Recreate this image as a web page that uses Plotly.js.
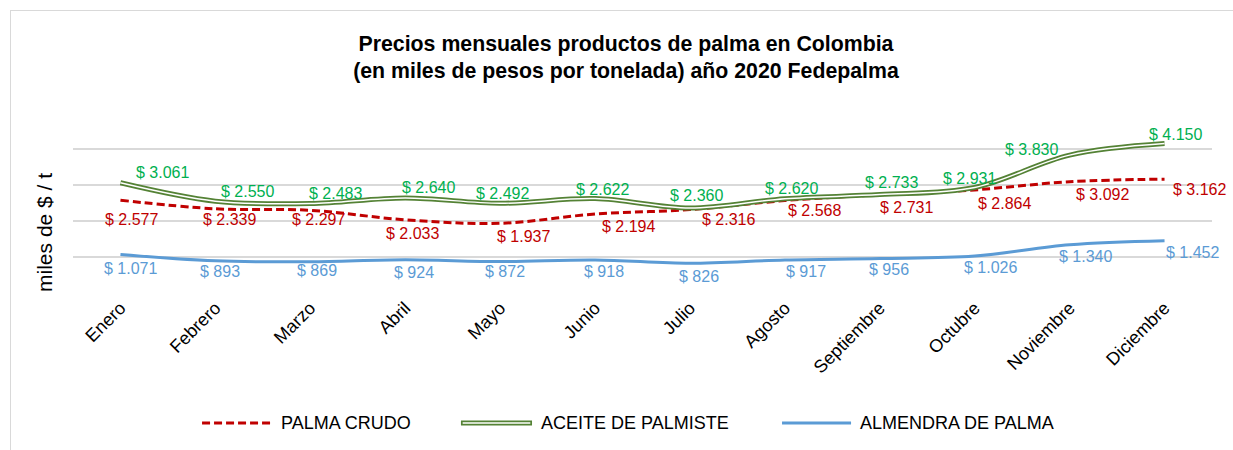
<!DOCTYPE html>
<html>
<head>
<meta charset="utf-8">
<script src="https://cdn.plot.ly/plotly-3.0.1.min.js"></script>
<style>
  html, body { margin: 0; padding: 0; background: #fff; overflow: hidden; }
  #wrap { position: relative; width: 1233px; height: 450px; }
  #chart { position: absolute; left: 0; top: 0; width: 1233px; height: 450px; }
  #frame { position: absolute; left: 10px; top: 10px; width: 1240px; height: 460px;
           border-top: 1.5px solid #D9D9D9; border-left: 1.5px solid #D9D9D9; pointer-events: none; }
</style>
</head>
<body>
<div id="wrap">
  <div id="chart"></div>
  <div id="frame"></div>
</div>
<script>
// ---- Data ----
const months = ['Enero', 'Febrero', 'Marzo', 'Abril', 'Mayo', 'Junio', 'Julio',
                'Agosto', 'Septiembre', 'Octubre', 'Noviembre', 'Diciembre'];
const palmaCrudo     = [2577, 2339, 2297, 2033, 1937, 2194, 2316, 2568, 2731, 2864, 3092, 3162];
const aceitePalmiste = [3061, 2550, 2483, 2640, 2492, 2622, 2360, 2620, 2733, 2931, 3830, 4150];
const almendraPalma  = [1071,  893,  869,  924,  872,  918,  826,  917,  956, 1026, 1340, 1452];
const seriesNames = ['PALMA CRUDO', 'ACEITE DE PALMISTE', 'ALMENDRA DE PALMA'];
const chartTitle = 'Precios mensuales productos de palma en Colombia<br>(en miles de pesos por tonelada) año 2020 Fedepalma';
const yTitle = 'miles de $ / t';

// ---- Styling / label placement (pixel offsets of data labels) ----
const FONT = 'Liberation Sans, Arial, sans-serif';
const RED = '#C00000', GREEN_LINE = '#548235', GREEN_TXT = '#00B050', BLUE = '#5B9BD5';
const shiftCrudo   = { dx: [11, 14, 8, 7, 23, 33, 39, 30, 27, 30, 33, 35],
                       dy: [19.5, 11, 9, 14, 13, 12, 10, 10, 13, 14, 13, 10] };
const shiftAceite  = { dx: [42, 32, 25, 23, 2, 7, 7, 7, 12, -5, -38, 11],
                       dy: [-10, -10, -10.5, -10, -10, -9.5, -13, -10, -12.5, -8.5, -6, -9.5] };
const shiftAlmendra= { dx: [10, 5, 7, 9, 4.5, 9, 9, 21, 9.5, 16, 16, 28],
                       dy: [14, 11, 9, 13, 10, 12, 13.5, 12, 11, 11.5, 11.5, 12] };

const fmt = v => '$ ' + String(v).replace(/\B(?=(\d{3})+(?!\d))/g, '.');

const traces = [
  { x: months, y: palmaCrudo, type: 'scatter', mode: 'lines', name: seriesNames[0],
    line: { color: RED, width: 3, dash: '8px,4px', shape: 'spline', smoothing: 1 } },
  { x: months, y: aceitePalmiste, type: 'scatter', mode: 'lines', name: seriesNames[1],
    line: { color: GREEN_LINE, width: 5, shape: 'spline', smoothing: 1 } },
  { x: months, y: aceitePalmiste, type: 'scatter', mode: 'lines', name: seriesNames[1],
    showlegend: false, hoverinfo: 'skip',
    line: { color: '#FFFFFF', width: 1.5, shape: 'spline', smoothing: 1 } },
  { x: months, y: almendraPalma, type: 'scatter', mode: 'lines', name: seriesNames[2],
    line: { color: BLUE, width: 3, shape: 'spline', smoothing: 1 } }
];

const annotations = [];
function addLabels(vals, shift, color) {
  vals.forEach((v, i) => {
    annotations.push({
      x: months[i], y: v, xref: 'x', yref: 'y', text: fmt(v), showarrow: false,
      xanchor: 'center', yanchor: 'middle',
      xshift: shift.dx[i], yshift: -shift.dy[i],
      font: { family: FONT, size: 16, color: color }
    });
  });
}
addLabels(palmaCrudo, shiftCrudo, RED);
addLabels(aceitePalmiste, shiftAceite, GREEN_TXT);
addLabels(almendraPalma, shiftAlmendra, BLUE);

// y-axis title (placed like the original, below the plot-area middle)
annotations.push({
  xref: 'paper', yref: 'paper', x: -0.0246, y: 0.339, text: yTitle, textangle: -90,
  showarrow: false, xanchor: 'center', yanchor: 'middle',
  font: { family: FONT, size: 21, color: '#000' }
});

// custom legend
const legY = -0.722;
const legItems = [
  { x0: 0.1133, x1: 0.1747, tx: 0.1809, name: seriesNames[0] },
  { x0: 0.3406, x1: 0.4030, tx: 0.4091, name: seriesNames[1] },
  { x0: 0.6225, x1: 0.6831, tx: 0.6892, name: seriesNames[2] }
];
legItems.forEach(it => {
  annotations.push({ xref: 'paper', yref: 'paper', x: it.tx, y: legY, text: it.name,
    showarrow: false, xanchor: 'left', yanchor: 'middle',
    font: { family: FONT, size: 18, color: '#000' } });
});
const shapes = [
  { type: 'line', xref: 'paper', yref: 'paper', x0: legItems[0].x0, x1: legItems[0].x1, y0: legY, y1: legY,
    line: { color: RED, width: 3, dash: '8px,4px' } },
  { type: 'line', xref: 'paper', yref: 'paper', x0: legItems[1].x0, x1: legItems[1].x1, y0: legY, y1: legY,
    line: { color: GREEN_LINE, width: 5 } },
  { type: 'line', xref: 'paper', yref: 'paper', x0: legItems[1].x0 + 0.0015, x1: legItems[1].x1 - 0.0015, y0: legY, y1: legY,
    line: { color: '#FFFFFF', width: 1.5 } },
  { type: 'line', xref: 'paper', yref: 'paper', x0: legItems[2].x0, x1: legItems[2].x1, y0: legY, y1: legY,
    line: { color: BLUE, width: 3 } }
];

const layout = {
  width: 1233, height: 450,
  margin: { l: 73, r: 21, t: 113, b: 157, pad: 0 },
  paper_bgcolor: '#FFFFFF', plot_bgcolor: '#FFFFFF',
  font: { family: FONT, color: '#000' },
  showlegend: false,
  title: {
    text: '<b>' + chartTitle.replace('<br>', '</b><br><b>') + '</b>',
    x: 0.5077, xref: 'container', xanchor: 'center',
    y: 1 - 50.5 / 450, yref: 'container', yanchor: 'middle',
    font: { family: FONT, size: 21.3, color: '#000' }
  },
  xaxis: {
    type: 'category', range: [-0.5, 11.5], showgrid: false, zeroline: false, showline: false,
    ticks: '', tickangle: -45, automargin: false,
    tickfont: { family: FONT, size: 18, color: '#000' }
  },
  yaxis: {
    range: [0, 5000], tick0: 0, dtick: 1000, showticklabels: false, ticks: '',
    showgrid: true, gridcolor: '#D9D9D9', gridwidth: 1.5, zeroline: false, showline: false,
    automargin: false
  },
  annotations: annotations,
  shapes: shapes
};

Plotly.newPlot('chart', traces, layout, { staticPlot: true, displayModeBar: false });
</script>
</body>
</html>
